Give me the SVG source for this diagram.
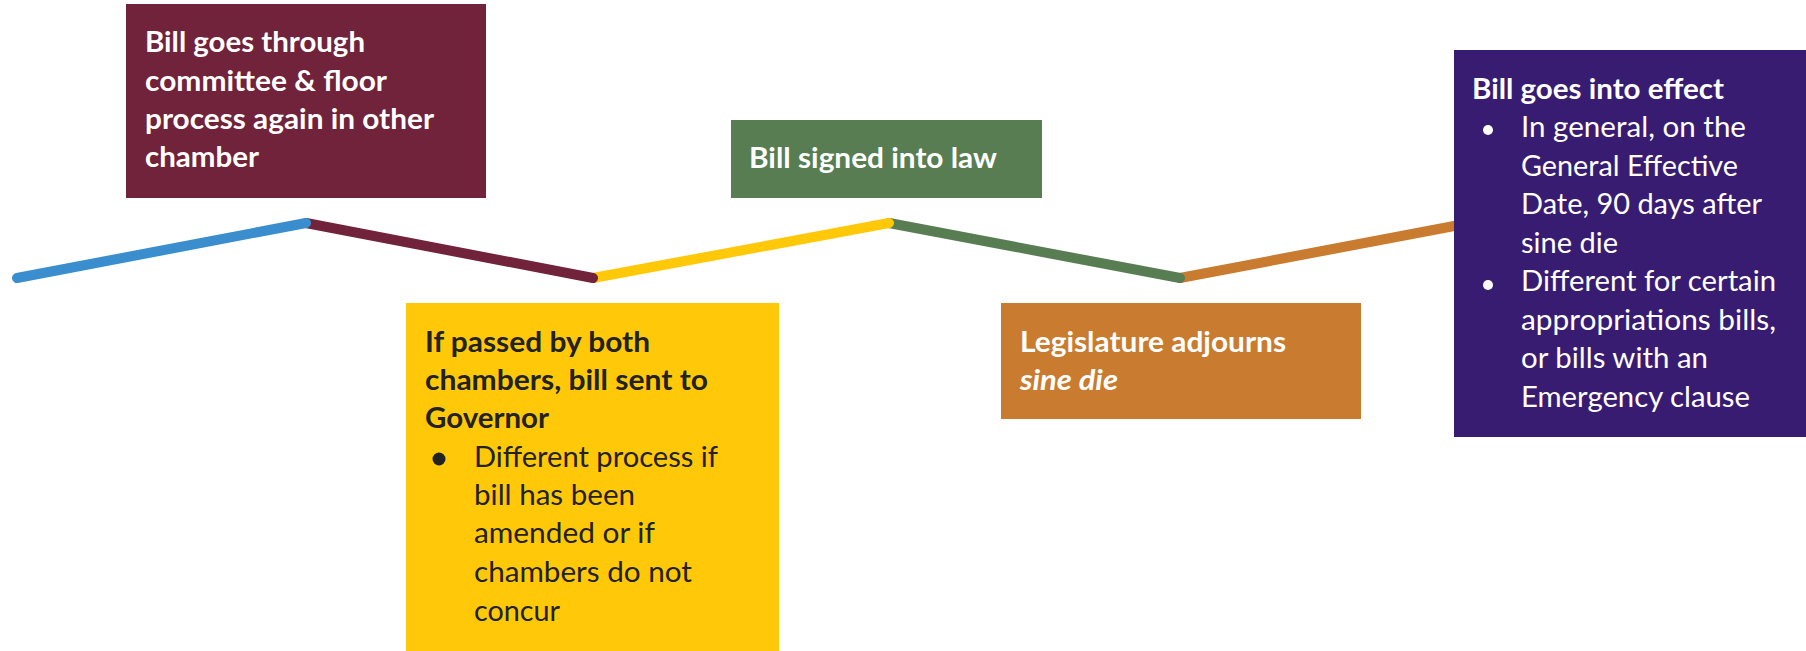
<svg xmlns="http://www.w3.org/2000/svg" width="1806" height="651" viewBox="0 0 1806 651">
<style>
text{font-family:Lato,"Open Sans","Liberation Sans",sans-serif;font-size:28px}
.b{font-weight:bold}
.w{fill:#ffffff}
.d{fill:#222222}
.seg{fill:none;stroke-width:10;stroke-linecap:round}
</style>
<rect width="1806" height="651" fill="#ffffff"/>
<g id="connectors">
<line class="seg" x1="1180" y1="278" x2="1470" y2="223" stroke="#C97C30"/>
<line class="seg" x1="889" y1="223" x2="1180" y2="278" stroke="#587D52"/>
<line class="seg" x1="593" y1="278" x2="889" y2="223" stroke="#FFC90A"/>
<line class="seg" x1="306" y1="223" x2="593" y2="278" stroke="#70233A"/>
<line class="seg" x1="17" y1="278" x2="306" y2="223" stroke="#3A8ECE"/>
</g>
<g id="node-committee">
<rect x="126" y="4" width="360" height="194" fill="#70233A"/>
<text class="b w" x="145" y="52" textLength="220" lengthAdjust="spacingAndGlyphs">Bill goes through</text>
<text class="b w" x="145" y="91" textLength="242" lengthAdjust="spacingAndGlyphs">committee &amp; floor</text>
<text class="b w" x="145" y="129" textLength="289" lengthAdjust="spacingAndGlyphs">process again in other</text>
<text class="b w" x="145" y="167" textLength="114" lengthAdjust="spacingAndGlyphs">chamber</text>
</g>
<g id="node-governor">
<rect x="406" y="303" width="373" height="348" fill="#FFC90A"/>
<text class="b d" x="425" y="352" textLength="225" lengthAdjust="spacingAndGlyphs">If passed by both</text>
<text class="b d" x="425" y="390" textLength="283" lengthAdjust="spacingAndGlyphs">chambers, bill sent to</text>
<text class="b d" x="425" y="428" textLength="124" lengthAdjust="spacingAndGlyphs">Governor</text>
<circle cx="439" cy="459" r="6.5" fill="#222222"/>
<text class="d" x="474" y="467" textLength="244" lengthAdjust="spacingAndGlyphs">Different process if</text>
<text class="d" x="474" y="505" textLength="161" lengthAdjust="spacingAndGlyphs">bill has been</text>
<text class="d" x="474" y="543" textLength="181" lengthAdjust="spacingAndGlyphs">amended or if</text>
<text class="d" x="474" y="582" textLength="218" lengthAdjust="spacingAndGlyphs">chambers do not</text>
<text class="d" x="474" y="621" textLength="86" lengthAdjust="spacingAndGlyphs">concur</text>
</g>
<g id="node-signed">
<rect x="731" y="120" width="311" height="78" fill="#587D52"/>
<text class="b w" x="749" y="168" textLength="248" lengthAdjust="spacingAndGlyphs">Bill signed into law</text>
</g>
<g id="node-adjourns">
<rect x="1001" y="303" width="360" height="116" fill="#C97C30"/>
<text class="b w" x="1020" y="352" textLength="266" lengthAdjust="spacingAndGlyphs">Legislature adjourns</text>
<text class="b w" x="1020" y="390" font-style="italic" textLength="98" lengthAdjust="spacingAndGlyphs">sine die</text>
</g>
<g id="node-effect">
<rect x="1454" y="50" width="352" height="387" fill="#381C72"/>
<text class="b w" x="1472" y="99" textLength="252" lengthAdjust="spacingAndGlyphs">Bill goes into effect</text>
<circle cx="1488" cy="130" r="5" fill="#ffffff"/>
<text class="w" x="1521" y="137" textLength="225" lengthAdjust="spacingAndGlyphs">In general, on the</text>
<text class="w" x="1521" y="175.5" textLength="217" lengthAdjust="spacingAndGlyphs">General Effective</text>
<text class="w" x="1521" y="214" textLength="241" lengthAdjust="spacingAndGlyphs">Date, 90 days after</text>
<text class="w" x="1521" y="252.5" textLength="97" lengthAdjust="spacingAndGlyphs">sine die</text>
<circle cx="1488" cy="285" r="5" fill="#ffffff"/>
<text class="w" x="1521" y="291" textLength="255" lengthAdjust="spacingAndGlyphs">Different for certain</text>
<text class="w" x="1521" y="329.5" textLength="255" lengthAdjust="spacingAndGlyphs">appropriations bills,</text>
<text class="w" x="1521" y="368" textLength="187" lengthAdjust="spacingAndGlyphs">or bills with an</text>
<text class="w" x="1521" y="406.5" textLength="229" lengthAdjust="spacingAndGlyphs">Emergency clause</text>
</g>
</svg>
